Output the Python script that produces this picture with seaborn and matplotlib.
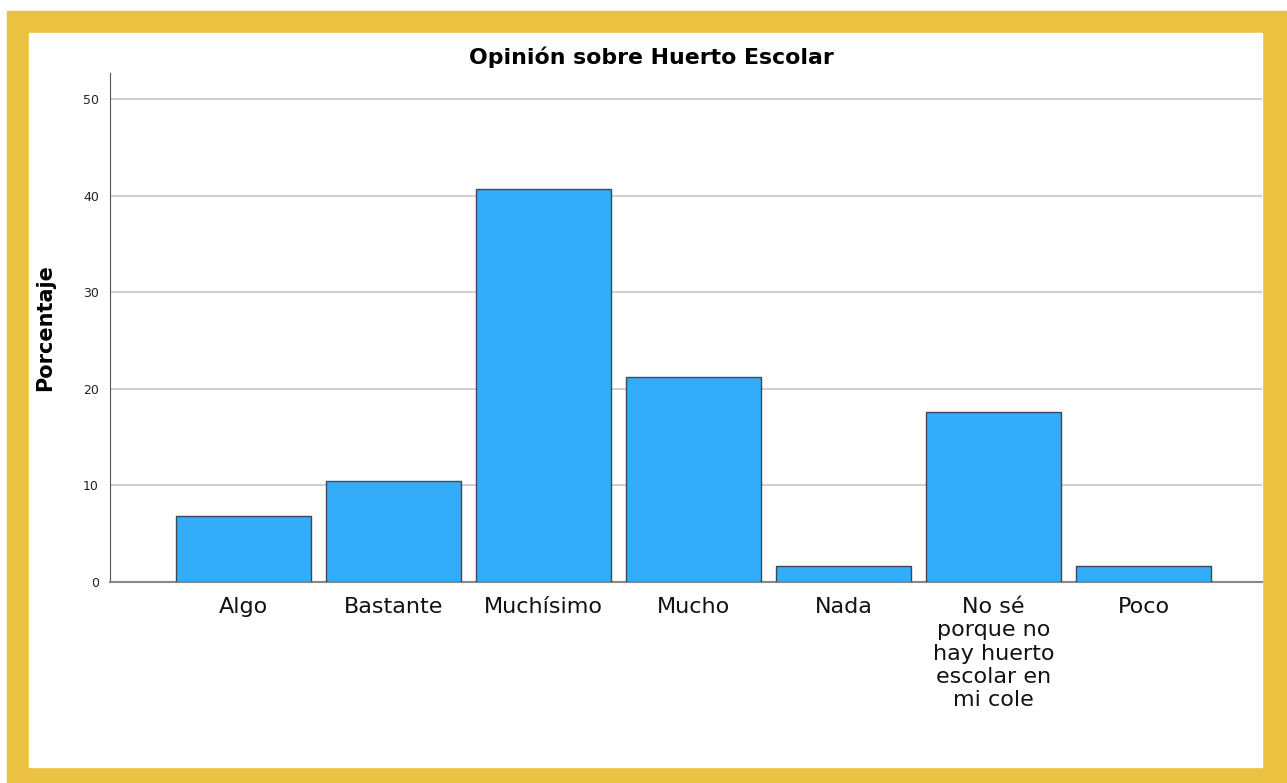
import pandas as pd
import numpy as np
import matplotlib
matplotlib.use("Agg")
import matplotlib.pyplot as plt
import seaborn as sns
from matplotlib.patches import Rectangle

categorias = ["Algo", "Bastante", "Muchísimo", "Mucho", "Nada",
              "No sé\nporque no\nhay huerto\nescolar en\nmi cole", "Poco"]
porcentajes = [6.8, 10.5, 40.7, 21.2, 1.7, 17.6, 1.7]
y_ticks = [0, 10, 20, 30, 40, 50]

df = pd.DataFrame({"opinion": categorias, "porcentaje": porcentajes})

sns.set_style("white")
plt.rcParams['font.family'] = ['DejaVu Sans']
plt.rcParams['text.color'] = 'black'
plt.rcParams['axes.labelcolor'] = 'black'

fig = plt.figure(figsize=(12.87, 7.83), dpi=100)

# marco amarillo
fig.patches.append(Rectangle((7 / 1287, 0), 1 - 7 / 1287, 1 - 11 / 783,
                             transform=fig.transFigure, color='#EBC141', zorder=-3))
fig.patches.append(Rectangle((29 / 1287, 16 / 783), (1262 - 29) / 1287, (767 - 33) / 783,
                             transform=fig.transFigure, color='white', zorder=-2))

ax = fig.add_axes([110 / 1287, 1 - 582 / 783, (1262 - 110) / 1287, (582 - 73) / 783])
ax.set_facecolor('none')
ax.set_zorder(1)

sns.barplot(data=df, x="opinion", y="porcentaje", color='#33ACFA',
            edgecolor='#3d4a55', linewidth=1, width=0.9, saturation=1, ax=ax, zorder=3)

ax.set_xlim(-0.89, 6.79)
ax.set_ylim(0, 52.7)
ax.set_yticks(y_ticks)
ax.yaxis.grid(True, color='#d0d0d0', linewidth=1.5, zorder=0)
ax.set_axisbelow(True)

for s in ['top', 'right']:
    ax.spines[s].set_visible(False)
ax.spines['left'].set_color('#555555')
ax.spines['bottom'].set_color('#888888')
ax.spines['bottom'].set_linewidth(1.5)

ax.tick_params(axis='y', length=0, labelsize=9, pad=8, labelcolor='#222222')
ax.tick_params(axis='x', length=0, labelsize=16, pad=11, labelcolor='#111111')
for lab in ax.get_xticklabels():
    lab.set_linespacing(1.2)
    lab.set_va('top')

ax.set_xlabel("")
ax.set_ylabel("Porcentaje", fontsize=15, fontweight='bold', labelpad=20)
fig.text(651 / 1287, 1 - 57 / 783, "Opinión sobre Huerto Escolar", fontsize=15.8,
         fontweight='bold', ha='center', va='center')

fig.savefig("out.png", dpi=100)
